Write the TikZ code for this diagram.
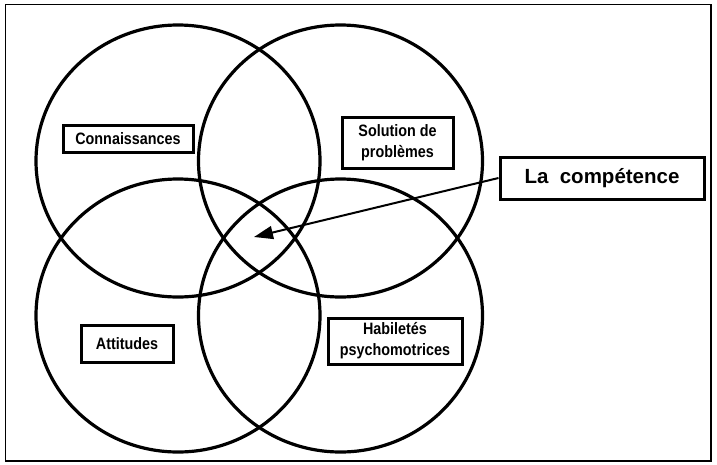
\documentclass[tikz,border=0pt]{standalone}
\usepackage{fontspec}
\setmainfont{Liberation Sans}
\newfontfamily\etroite[FakeStretch=0.87]{Liberation Sans}
\usetikzlibrary{arrows.meta}
\begin{document}
\begin{tikzpicture}
        [x=1pt, y=-1pt, line width=3.2pt,
         etiq/.style={draw, fill=white, line width=3pt, align=center,
            font=\etroite\fontsize{16.5}{21}\selectfont\bfseries, inner sep=0pt},
         titre/.style={etiq, font=\fontsize{20.5}{24}\selectfont\bfseries}]
        \useasboundingbox (0,0) rectangle (717,464);
        \draw[line width=1.8pt] (5.5,4.5) rectangle (711,461);
        % les quatre cercles
        \draw (178,161) ellipse [x radius=142pt, y radius=136pt];
        \draw (340.5,161) ellipse [x radius=142pt, y radius=136pt];
        \draw (178,315.5) ellipse [x radius=142pt, y radius=136.5pt];
        \draw (340.5,315.5) ellipse [x radius=142pt, y radius=136.5pt];
        % les etiquettes
        \node[etiq, minimum width=130pt, minimum height=27pt]
            (conn) at (128,138.5) {Connaissances};
        \node[etiq, minimum width=111pt, minimum height=51pt]
            (sol) at (397.5,142.5) {Solution de\\probl\`emes};
        \node[etiq, minimum width=92pt, minimum height=37pt]
            (att) at (127,343.5) {Attitudes};
        \node[etiq, minimum width=134pt, minimum height=46pt]
            (hab) at (395,341) {Habilet\'es\\psychomotrices};
        \node[titre, minimum width=204pt, minimum height=42pt]
            (comp) at (602,178) {La\ \ comp\'etence};
        \coordinate (cible) at (254,237);
        \draw[-{Triangle[length=19pt,width=13pt]}, line width=2pt]
            (comp.west) -- (cible);
\end{tikzpicture}
\end{document}
